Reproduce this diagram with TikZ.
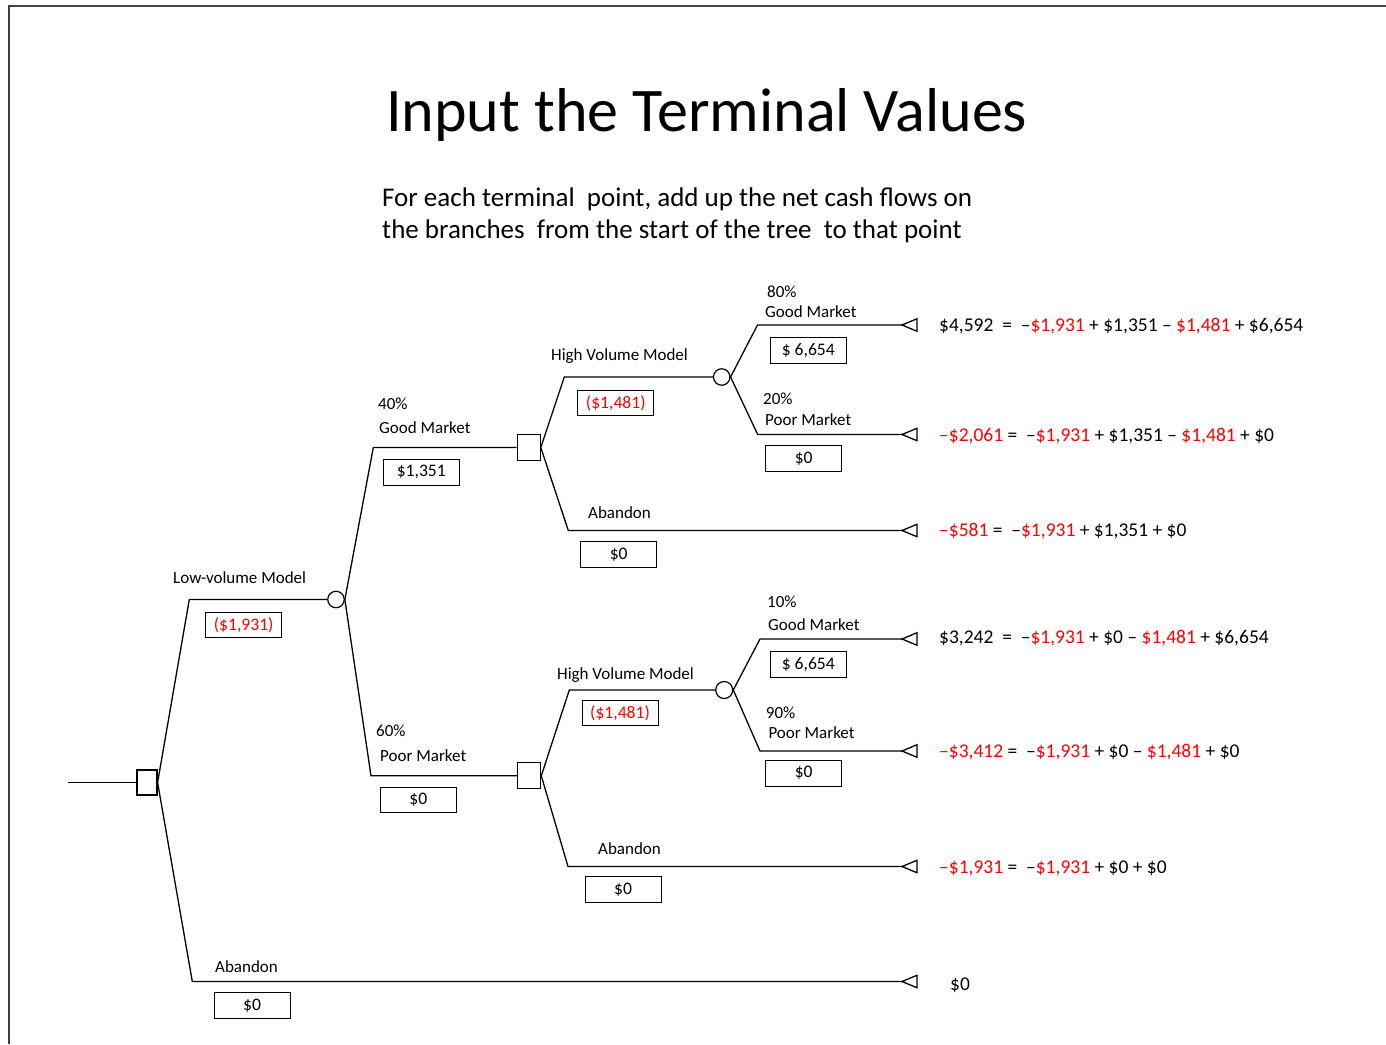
\documentclass[tikz,border=0pt]{standalone}
\usepackage{fontspec}
\setmainfont{Carlito}
\definecolor{rd}{RGB}{255,0,0}
\begin{document}
\begin{tikzpicture}[x=1pt,y=-1pt,
  br/.style={line width=1.3pt, black},
  dec/.style={draw, line width=1.2pt, fill=white, inner sep=0pt},
  chn/.style={draw, circle, line width=1.2pt, fill=white, minimum size=16.5pt, inner sep=0pt},
  lab/.style={anchor=base west, inner sep=0pt, font=\fontsize{17}{20}\selectfont},
  valbox/.style={draw, line width=0.9pt, minimum width=76pt, minimum height=25.5pt, inner sep=0pt, font=\fontsize{17.6}{20}\selectfont},
  eq/.style={anchor=base west, inner sep=0pt, font=\fontsize{19.5}{23}\selectfont},
  tri/.style={line width=1.3pt, fill=white}]
\useasboundingbox (0,0) rectangle (1386,1044);
% slide frame
\draw[line width=1.5pt, black!75] (9,1044) -- (9,6) -- (1386,6);
% title
\node[anchor=base west, inner sep=0pt, font=\fontsize{62}{70}\selectfont] (title) at (386,131) {Input the Terminal Values};
\node[anchor=base west, inner sep=0pt, font=\fontsize{27}{32}\selectfont] (sub1) at (382,206) {For each terminal\ \ point, add up the net cash flows on};
\node[anchor=base west, inner sep=0pt, font=\fontsize{27}{32}\selectfont] (sub2) at (382,238) {the branches\ \ from the start of the tree\ \ to that point};
% decision and chance nodes
\node[dec, minimum width=20pt, minimum height=25pt] (d0) at (147,782.5) {};
\node[chn] (c1) at (336,599.5) {};
\node[dec, minimum width=23pt, minimum height=26pt] (d1) at (528.7,447.5) {};
\node[dec, minimum width=23pt, minimum height=26pt] (d2) at (529.2,775.8) {};
\node[chn] (c2) at (721.7,377) {};
\node[chn, minimum size=17pt] (c3) at (724.2,690) {};
% root entry
\coordinate (root) at (68,782.5);
% terminal apexes
\coordinate (t1) at (902,325);
\coordinate (t2) at (902,434.5);
\coordinate (t3) at (902,530.5);
\coordinate (t4) at (902,639);
\coordinate (t5) at (902,751);
\coordinate (t6) at (902,866.5);
\coordinate (t7) at (902,981.5);
% bend points
\coordinate (k1) at (189.3,599.5);
\coordinate (k2) at (192.3,981.5);
\coordinate (k3) at (373.3,447.5);
\coordinate (k4) at (371,775.8);
\coordinate (k5) at (564.3,377);
\coordinate (k6) at (568.3,530.5);
\coordinate (k7) at (757.5,325);
\coordinate (k8) at (757.7,434.5);
\coordinate (k9) at (569.3,690);
\coordinate (k10) at (568,866.5);
\coordinate (k11) at (760,639);
\coordinate (k12) at (760,751);
% branches
\draw[br] (root) -- (d0.west);
\draw[br] (d0.east) -- (k1) -- (c1.west);
\draw[br] (d0.east) -- (k2) -- (t7);
\draw[br] (c1.east) -- (k3) -- (d1.west);
\draw[br] (c1.east) -- (k4) -- (d2.west);
\draw[br] (d1.east) -- (k5) -- (c2.west);
\draw[br] (d1.east) -- (k6) -- (t3);
\draw[br] (c2.east) -- (k7) -- (t1);
\draw[br] (c2.east) -- (k8) -- (t2);
\draw[br] (d2.east) -- (k9) -- (c3.west);
\draw[br] (d2.east) -- (k10) -- (t6);
\draw[br] (c3.east) -- (k11) -- (t4);
\draw[br] (c3.east) -- (k12) -- (t5);
% terminal triangles
\foreach \t in {t1,t2,t3,t4,t5,t6,t7}{
  \draw[tri] (\t) -- ++(15,-6.25) -- ++(0,12.5) -- cycle;
}
% branch labels
\node[lab] (l1) at (173,583) {Low-volume Model};
\node[lab] (l2) at (378,409.5) {40\%};
\node[lab] (l3) at (379,433) {Good Market};
\node[lab] (l4) at (376,736.5) {60\%};
\node[lab] (l5) at (380,761) {Poor Market};
\node[lab] (l6) at (551,360.7) {High Volume Model};
\node[lab] (l7) at (767,297) {80\%};
\node[lab] (l8) at (765,317.3) {Good Market};
\node[lab] (l9) at (763,404) {20\%};
\node[lab] (l10) at (765,425.7) {Poor Market};
\node[lab] (l11) at (588,518.3) {Abandon};
\node[lab] (l12) at (557,679.3) {High Volume Model};
\node[lab] (l13) at (767,607.3) {10\%};
\node[lab] (l14) at (768,630.7) {Good Market};
\node[lab] (l15) at (765.7,718.7) {90\%};
\node[lab] (l16) at (768.3,738.3) {Poor Market};
\node[lab] (l17) at (598,854.5) {Abandon};
\node[lab] (l18) at (215,972.3) {Abandon};
% value boxes
\node[valbox, text=rd] (b1) at (243.7,625) {(\$1,931)};
\node[valbox] (b2) at (421.3,472.2) {\$1,351};
\node[valbox] (b3) at (418.3,800) {\$0};
\node[valbox, text=rd] (b4) at (615.8,403) {(\$1,481)};
\node[valbox] (b5) at (808.3,350.5) {\$ 6,654};
\node[valbox] (b6) at (803.7,458.5) {\$0};
\node[valbox] (b7) at (618.7,554.5) {\$0};
\node[valbox, text=rd] (b8) at (620,712.8) {(\$1,481)};
\node[valbox] (b9) at (808.3,664.5) {\$ 6,654};
\node[valbox] (b10) at (803.7,773.2) {\$0};
\node[valbox] (b11) at (623,889.5) {\$0};
\node[valbox] (b12) at (252,1005.5) {\$0};
% terminal values
\node[eq] (e1) at (939,331.5) {\$4,592\ \ =\ \ –\textcolor{rd}{\$1,931} + \$1,351 – \textcolor{rd}{\$1,481} + \$6,654};
\node[eq] (e2) at (939,441) {\textcolor{rd}{–\$2,061} =\ \ –\textcolor{rd}{\$1,931} + \$1,351 – \textcolor{rd}{\$1,481} + \$0};
\node[eq] (e3) at (939,536.5) {\textcolor{rd}{–\$581} =\ \ –\textcolor{rd}{\$1,931} + \$1,351 + \$0};
\node[eq] (e4) at (939,643.5) {\$3,242\ \ =\ \ –\textcolor{rd}{\$1,931} + \$0 – \textcolor{rd}{\$1,481} + \$6,654};
\node[eq] (e5) at (939,757.5) {\textcolor{rd}{–\$3,412} =\ \ –\textcolor{rd}{\$1,931} + \$0 – \textcolor{rd}{\$1,481} + \$0};
\node[eq] (e6) at (939,873) {\textcolor{rd}{–\$1,931} =\ \ –\textcolor{rd}{\$1,931} + \$0 + \$0};
\node[eq] (e7) at (950,990) {\$0};
\end{tikzpicture}
\end{document}
